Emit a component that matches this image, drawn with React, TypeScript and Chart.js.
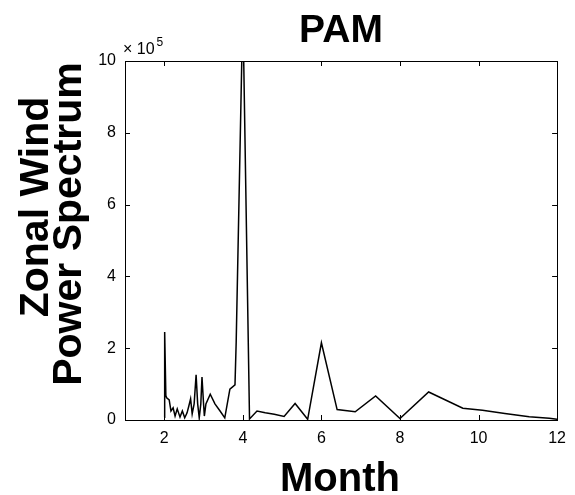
import React, { useEffect, useRef } from "react";
import { Chart, registerables } from "chart.js";

Chart.register(...registerables);

// Period (months)
const months = [
  2.0, 2.01, 2.04, 2.06, 2.125, 2.17, 2.225, 2.275, 2.33, 2.4, 2.46, 2.52, 2.58,
  2.625, 2.67, 2.71, 2.76, 2.81, 2.85, 2.89, 2.93, 2.96, 3.0, 3.02, 3.06, 3.17,
  3.29, 3.42, 3.54, 3.67, 3.8, 3.83, 4.0, 4.17, 4.36, 4.57, 4.8, 5.05, 5.33,
  5.65, 6.0, 6.4, 6.86, 7.38, 8.0, 8.73, 9.6, 10.1, 10.67, 11.29, 11.8, 12.0,
];
// Zonal wind power spectrum, in units of 10^5
const power = [
  0.08, 2.45, 0.68, 0.62, 0.56, 0.25, 0.34, 0.11, 0.31, 0.08, 0.25, 0.06, 0.2,
  0.39, 0.59, 0.17, 0.45, 1.26, 0.45, 0.06, 0.45, 1.2, 0.45, 0.11, 0.45, 0.72,
  0.45, 0.25, 0.06, 0.86, 0.98, 2.15, 11.5, 0.03, 0.25, 0.2, 0.16, 0.1, 0.46,
  0.02, 2.15, 0.29, 0.23, 0.67, 0.04, 0.78, 0.33, 0.27, 0.18, 0.09, 0.05, 0.02,
];
const xTicks = [2, 4, 6, 8, 10, 12];
const yTicks = [0, 2, 4, 6, 8, 10];
const chartTitle = "PAM";
const xTitle = "Month";
const yTitleLines = ["Zonal Wind", "Power Spectrum"];
const yExponent = "5";

const TICK_FONT = "'Liberation Sans', Arial, sans-serif";

const decorPlugin = {
  id: "decor",
  afterDraw(chart: any) {
    const { ctx, chartArea: a } = chart;
    const xs = chart.scales.x;
    const ys = chart.scales.y;
    ctx.save();
    ctx.strokeStyle = "#000";
    ctx.lineWidth = 1;
    // box
    ctx.strokeRect(Math.round(a.left) + 0.5, Math.round(a.top) + 0.5,
      Math.round(a.right - a.left), Math.round(a.bottom - a.top));
    // inward ticks
    const tl = 5;
    ctx.beginPath();
    xTicks.forEach((v) => {
      const px = Math.round(xs.getPixelForValue(v)) + 0.5;
      ctx.moveTo(px, a.bottom); ctx.lineTo(px, a.bottom - tl);
      ctx.moveTo(px, a.top); ctx.lineTo(px, a.top + tl);
    });
    yTicks.forEach((v) => {
      const py = Math.round(ys.getPixelForValue(v)) + 0.5;
      ctx.moveTo(a.left, py); ctx.lineTo(a.left + tl, py);
      ctx.moveTo(a.right, py); ctx.lineTo(a.right - tl, py);
    });
    ctx.stroke();

    // exponent label
    ctx.fillStyle = "#000";
    ctx.textAlign = "left";
    ctx.textBaseline = "alphabetic";
    ctx.font = `16px ${TICK_FONT}`;
    ctx.fillText("\u00d7 10", a.left - 2, a.top - 7);
    const w = ctx.measureText("\u00d7 10").width;
    ctx.font = `12px ${TICK_FONT}`;
    ctx.fillText(yExponent, a.left - 2 + w + 2, a.top - 15);

    // titles
    ctx.font = "bold 39px 'Liberation Sans', Arial, sans-serif";
    ctx.textAlign = "center";
    ctx.fillText(chartTitle, 341, 42);
    ctx.font = "bold 40px 'Liberation Sans', Arial, sans-serif";
    ctx.fillText(xTitle, 340, 491);

    ctx.font = "bold 41px 'Liberation Sans', Arial, sans-serif";
    ctx.save();
    ctx.translate(48, 207);
    ctx.rotate(-Math.PI / 2);
    ctx.fillText(yTitleLines[0], 0, 0);
    ctx.restore();
    ctx.save();
    ctx.translate(81, 224);
    ctx.rotate(-Math.PI / 2);
    ctx.fillText(yTitleLines[1], 0, 0);
    ctx.restore();

    ctx.restore();
  },
};

export default function App() {
  const ref = useRef<HTMLCanvasElement | null>(null);
  useEffect(() => {
    document.body.style.margin = "0";
    const canvas = ref.current!;
    const chart = new Chart(canvas, {
      type: "line",
      data: {
        datasets: [
          {
            data: months.map((m, i) => ({ x: m, y: power[i] })),
            borderColor: "#000",
            borderWidth: 1.5,
            pointRadius: 0,
            tension: 0,
            fill: false,
          },
        ],
      },
      options: {
        animation: false,
        responsive: false,
        devicePixelRatio: 1,
        layout: { padding: { left: 0, right: 10, top: 61, bottom: 0 } },
        plugins: { legend: { display: false }, tooltip: { enabled: false }, title: { display: false } },
        scales: {
          x: {
            type: "linear",
            min: 1,
            max: 12,
            afterBuildTicks: (s: any) => { s.ticks = xTicks.map((v) => ({ value: v })); },
            afterFit: (s: any) => { s.height = 75; },
            grid: { display: false, drawTicks: false },
            border: { display: false },
            ticks: {
              padding: 9,
              color: "#000",
              font: { family: TICK_FONT, size: 16 },
              maxRotation: 0,
              autoSkip: false,
            },
          },
          y: {
            type: "linear",
            min: 0,
            max: 10,
            afterBuildTicks: (s: any) => { s.ticks = yTicks.map((v) => ({ value: v })); },
            afterFit: (s: any) => { s.width = 125; },
            grid: { display: false, drawTicks: false },
            border: { display: false },
            ticks: {
              padding: 9,
              color: "#000",
              font: { family: TICK_FONT, size: 16 },
              autoSkip: false,
            },
          },
        },
      },
      plugins: [decorPlugin],
    } as any);
    return () => chart.destroy();
  }, []);
  return (
    <div style={{ position: "absolute", left: 0, top: 0, width: 575, height: 495, background: "#fff" }}>
      <canvas ref={ref} width={575} height={495} style={{ display: "block" }} />
    </div>
  );
}
